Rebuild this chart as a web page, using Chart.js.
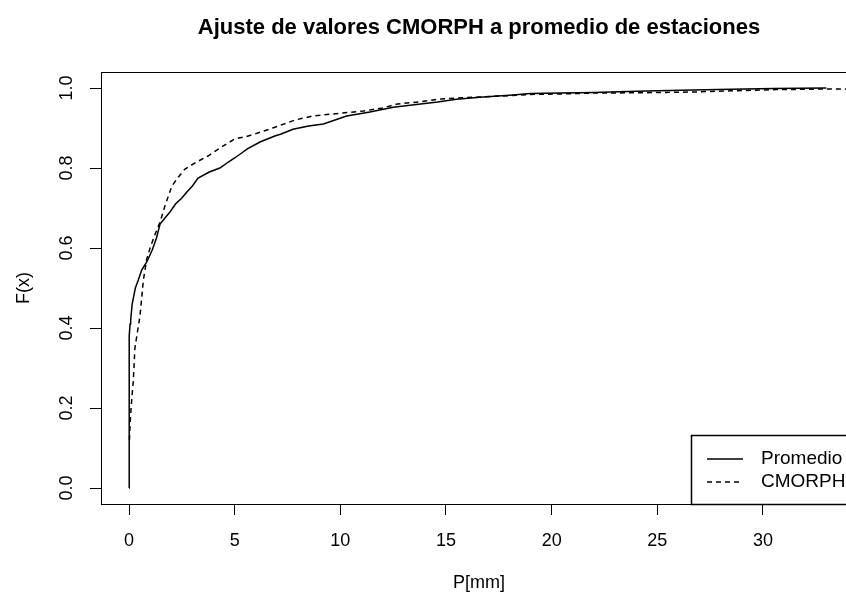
<!DOCTYPE html>
<html>
<head>
<meta charset="utf-8">
<script src="https://cdn.jsdelivr.net/npm/chart.js@4.4.1/dist/chart.umd.min.js"></script>
<style>
  html, body { margin: 0; padding: 0; background: #fff; overflow: hidden; }
  #wrap { width: 846px; height: 596px; overflow: hidden; position: relative; }
  canvas { display: block; }
</style>
</head>
<body>
<div id="wrap"><canvas id="c" width="958" height="596"></canvas></div>
<script>
// ---- data ----
const titleText = 'Ajuste de valores CMORPH a promedio de estaciones';
const xAxisTitle = 'P[mm]';
const yAxisTitle = 'F(x)';
const xTicks = [0, 5, 10, 15, 20, 25, 30];
const yTicks = [0, 0.2, 0.4, 0.6, 0.8, 1.0];
const yTickLabels = ['0.0', '0.2', '0.4', '0.6', '0.8', '1.0'];
const seriesNames = ['Promedio', 'CMORPH'];

const promX = [0, 0, 0.02, 0.05, 0.08, 0.15, 0.3, 0.44, 0.6, 0.84, 1.1, 1.3, 1.47, 1.7, 1.94, 2.2, 2.5, 2.74, 3.0, 3.27, 3.8, 4.3, 4.7, 5.0, 5.4, 5.6, 6.2, 6.9, 7.2, 7.76, 8.5, 9.2, 10.3, 11.4, 12.5, 13.5, 14.6, 15.5, 16.6, 18, 19, 20.4, 22, 23.6, 25, 26.7, 28.5, 30.5, 33.0];
const promF = [0, 0.33, 0.38, 0.41, 0.42, 0.46, 0.5, 0.52, 0.545, 0.565, 0.595, 0.625, 0.66, 0.675, 0.69, 0.71, 0.725, 0.74, 0.755, 0.775, 0.79, 0.80, 0.815, 0.825, 0.84, 0.848, 0.865, 0.88, 0.885, 0.897, 0.905, 0.91, 0.93, 0.94, 0.952, 0.958, 0.965, 0.972, 0.977, 0.982, 0.986, 0.9875, 0.989, 0.991, 0.993, 0.995, 0.997, 0.999, 1.0];

const cmX = [0.02, 0.05, 0.1, 0.15, 0.2, 0.28, 0.4, 0.52, 0.68, 0.84, 1.0, 1.2, 1.47, 1.7, 2.03, 2.3, 2.65, 3.2, 3.74, 4.3, 5.0, 5.5, 5.96, 6.8, 7.86, 8.7, 10, 11.1, 12.0, 12.7, 13.7, 14.7, 15.6, 16.6, 18, 19, 20.4, 22, 24, 26.7, 28.5, 30.7, 33, 34.5];
const cmF = [0.12, 0.16, 0.2, 0.235, 0.265, 0.35, 0.39, 0.43, 0.52, 0.5725, 0.6, 0.63, 0.665, 0.705, 0.755, 0.775, 0.7975, 0.815, 0.83, 0.85, 0.8725, 0.878, 0.885, 0.9, 0.92, 0.93, 0.937, 0.9425, 0.95, 0.96, 0.965, 0.9725, 0.975, 0.9775, 0.981, 0.984, 0.985, 0.9875, 0.988, 0.99, 0.993, 0.996, 0.9975, 0.9975];

// ---- chart ----
const FONT = "'Liberation Sans', Arial, Helvetica, sans-serif";
const BASE = 18;
const LEG = 19;

const toPts = (xs, ys) => xs.map((x, i) => ({ x: x, y: ys[i] }));

const boxPlugin = {
  id: 'rbox',
  afterDraw(chart) {
    const ctx = chart.ctx;
    const a = chart.chartArea;
    ctx.save();
    // plot frame
    ctx.strokeStyle = '#000';
    ctx.lineWidth = 1;
    ctx.strokeRect(Math.round(a.left) + 0.5, Math.round(a.top) + 0.5,
                   Math.round(a.right - a.left), Math.round(a.bottom - a.top));
    // y tick labels (rotated, like R)
    const ys = chart.scales.y;
    ctx.fillStyle = '#000';
    ctx.font = BASE + 'px ' + FONT;
    ctx.textAlign = 'center';
    ctx.textBaseline = 'middle';
    yTicks.forEach((v, i) => {
      const py = ys.getPixelForValue(v);
      ctx.save();
      ctx.translate(67, py);
      ctx.rotate(-Math.PI / 2);
      ctx.fillText(yTickLabels[i], 0, 0);
      ctx.restore();
    });
    // legend (bottom-right, inside plot)
    const R = Math.round(a.right), B = Math.round(a.bottom);
    const L = R - 166, T = B - 69;
    ctx.fillStyle = '#fff';
    ctx.fillRect(L, T, R - L, B - T);
    ctx.strokeStyle = '#000';
    ctx.lineWidth = 1.5;
    ctx.strokeRect(L + 0.5, T + 0.5, R - L, B - T);
    const rows = [B - 45, B - 22];
    const dashes = [[], [5, 4]];
    ctx.font = LEG + 'px ' + FONT;
    rows.forEach((ry, i) => {
      ctx.beginPath();
      ctx.setLineDash(dashes[i]);
      ctx.lineWidth = 1.3;
      ctx.strokeStyle = '#000';
      ctx.moveTo(R - 150, ry);
      ctx.lineTo(R - 114, ry);
      ctx.stroke();
      ctx.setLineDash([]);
      ctx.fillStyle = '#000';
      ctx.textAlign = 'left';
      ctx.textBaseline = 'middle';
      ctx.fillText(seriesNames[i], R - 96, ry);
    });
    ctx.restore();
  }
};

new Chart(document.getElementById('c'), {
  type: 'line',
  data: {
    datasets: [
      { label: seriesNames[0], data: toPts(promX, promF), borderColor: '#000', borderWidth: 1.5,
        pointRadius: 0, tension: 0, fill: false },
      { label: seriesNames[1], data: toPts(cmX, cmF), borderColor: '#000', borderWidth: 1.5,
        borderDash: [5, 4], pointRadius: 0, tension: 0, fill: false }
    ]
  },
  options: {
    responsive: false,
    animation: false,
    events: [],
    layout: { padding: 0 },
    plugins: {
      legend: { display: false },
      tooltip: { enabled: false },
      title: {
        display: true, text: titleText, color: '#000',
        font: { family: FONT, size: 22, weight: 'bold' },
        padding: { top: 14.8, bottom: 30.8 }
      }
    },
    scales: {
      x: {
        type: 'linear', position: 'bottom', min: -1.325, max: 34.45,
        afterBuildTicks: s => { s.ticks = xTicks.map(v => ({ value: v })); },
        afterFit: s => { s.height = 92; },
        grid: { drawOnChartArea: false, drawTicks: true, tickLength: 11, color: '#000', lineWidth: 1 },
        border: { display: false },
        ticks: { color: '#000', font: { family: FONT, size: BASE }, padding: 15, maxRotation: 0,
                 callback: v => String(v) },
        title: { display: true, text: xAxisTitle, color: '#000', font: { family: FONT, size: BASE },
                 padding: { top: 0, bottom: 2.2 } }
      },
      y: {
        type: 'linear', position: 'left', min: -0.04, max: 1.04,
        afterBuildTicks: s => { s.ticks = yTicks.map(v => ({ value: v })); },
        afterFit: s => { s.width = 101; },
        grid: { drawOnChartArea: false, drawTicks: true, tickLength: 11, color: '#000', lineWidth: 1 },
        border: { display: false },
        ticks: { display: false },
        title: { display: true, text: yAxisTitle, color: '#000', font: { family: FONT, size: BASE },
                 padding: { top: 13.2, bottom: 0 } }
      },
      yR: {
        type: 'linear', position: 'right', display: true,
        afterFit: s => { s.width = 101; },
        grid: { display: false }, border: { display: false }, ticks: { display: false }
      }
    }
  },
  plugins: [boxPlugin]
});
</script>
</body>
</html>
